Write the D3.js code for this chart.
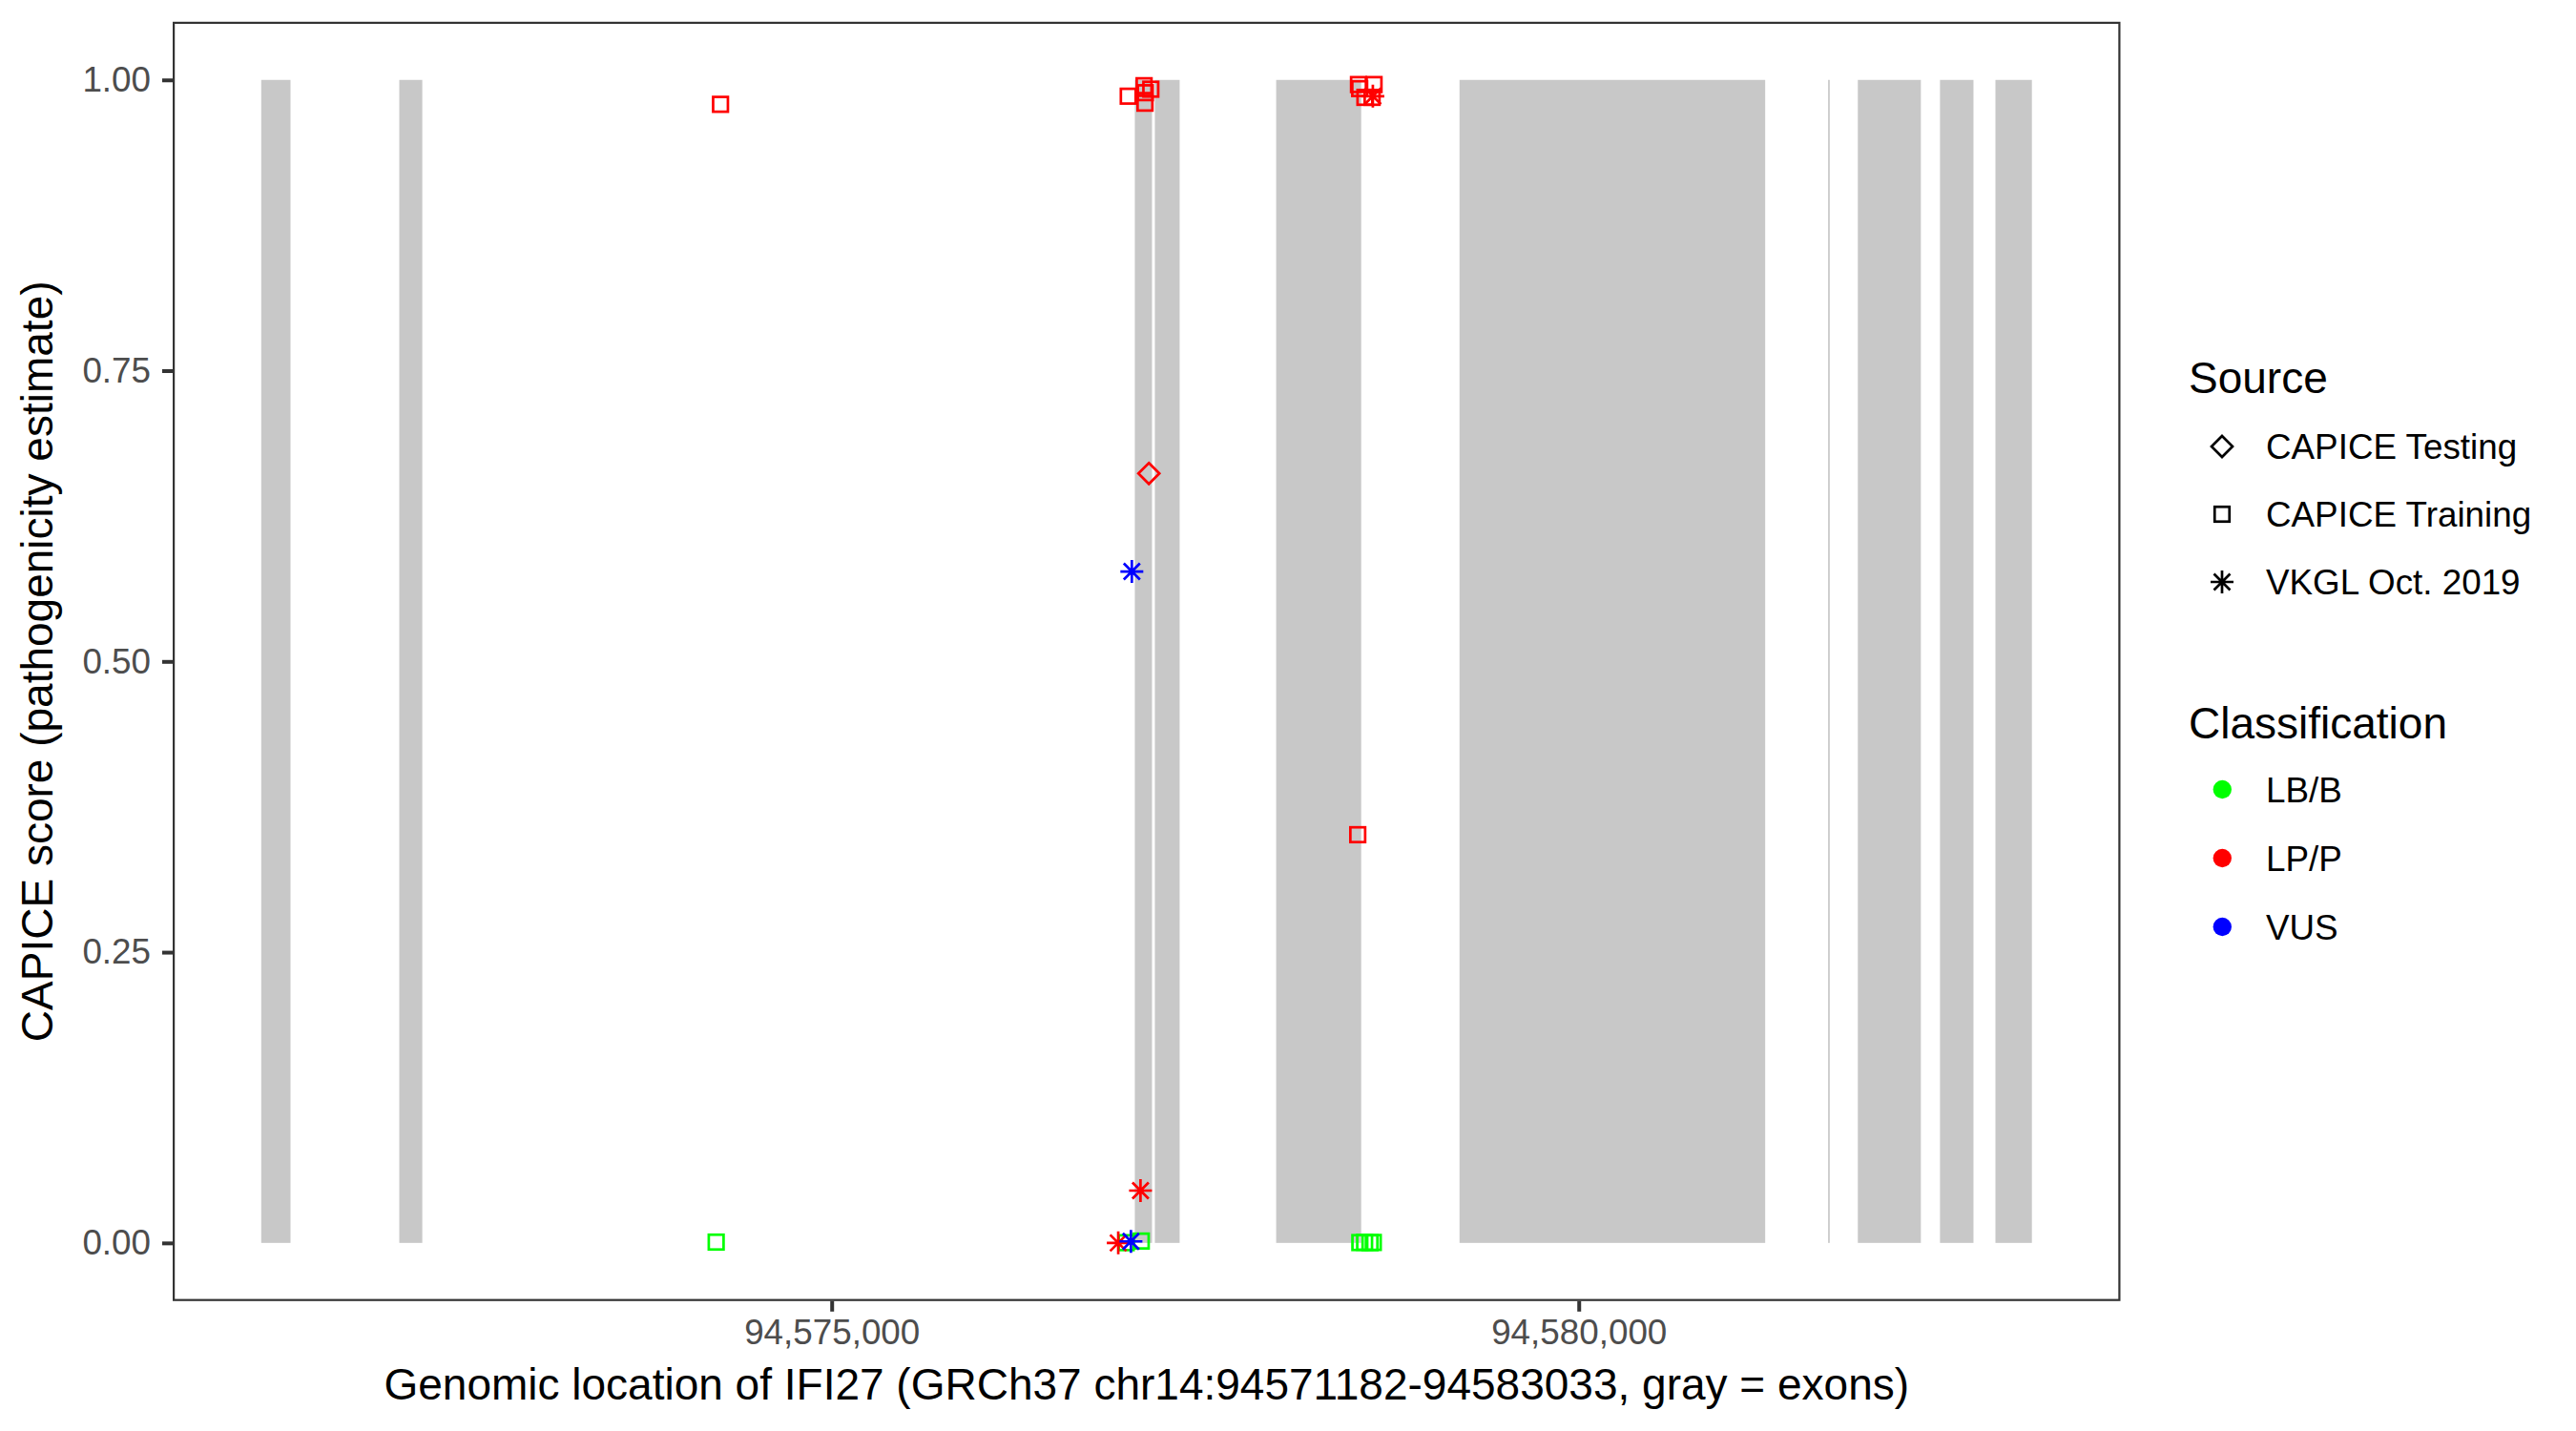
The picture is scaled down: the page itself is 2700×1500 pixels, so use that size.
<!DOCTYPE html>
<html>
<head>
<meta charset="utf-8">
<script src="https://cdn.jsdelivr.net/npm/d3@7"></script>
<style>
  html, body { margin: 0; padding: 0; background: #fff; }
  svg { display: block; }
  text { font-family: "Liberation Sans", Arial, Helvetica, sans-serif; }
</style>
</head>
<body>
<svg id="chart" width="2700" height="1500"></svg>
<script>
// ---- data ----
const geneStart = 94571182;
const geneEnd = 94583033;
const exonStarts = [94571182, 94572106, 94577029, 94577163, 94577975, 94579202, 94581669, 94581868, 94582418, 94582789];
const exonEnds   = [94571378, 94572260, 94577144, 94577329, 94578544, 94581248, 94581680, 94582290, 94582642, 94583033];

const positions = [94574227, 94576971, 94577072, 94578535, 94578567, 94578603, 94578625,
                   94574256, 94576985, 94577091, 94577136, 94577097, 94577099,
                   94578526, 94578630, 94578534, 94578569, 94578617, 94578521,
                   94577123,
                   94578622, 94577067, 94576918,
                   94577009, 94577003];
const scores    = [0.0007, 0.0002, 0.0016, 0.0003, 0.0005, 0.0002, 0.0004,
                   0.979, 0.986, 0.995, 0.992, 0.980, 0.989,
                   0.996, 0.996, 0.9925, 0.985, 0.985, 0.351,
                   0.6616,
                   0.986, 0.045, 0.0,
                   0.5773, 0.0013];
const sources   = ["CAPICE Training", "CAPICE Training", "CAPICE Training", "CAPICE Training", "CAPICE Training", "CAPICE Training", "CAPICE Training",
                   "CAPICE Training", "CAPICE Training", "CAPICE Training", "CAPICE Training", "CAPICE Training", "CAPICE Training",
                   "CAPICE Training", "CAPICE Training", "CAPICE Training", "CAPICE Training", "CAPICE Training", "CAPICE Training",
                   "CAPICE Testing",
                   "VKGL Oct. 2019", "VKGL Oct. 2019", "VKGL Oct. 2019",
                   "VKGL Oct. 2019", "VKGL Oct. 2019"];
const classes   = ["LB/B", "LB/B", "LB/B", "LB/B", "LB/B", "LB/B", "LB/B",
                   "LP/P", "LP/P", "LP/P", "LP/P", "LP/P", "LP/P",
                   "LP/P", "LP/P", "LP/P", "LP/P", "LP/P", "LP/P",
                   "LP/P",
                   "LP/P", "LP/P", "LP/P",
                   "VUS", "VUS"];

const sourceLevels = ["CAPICE Testing", "CAPICE Training", "VKGL Oct. 2019"];
const classLevels = ["LB/B", "LP/P", "VUS"];
const classColors = ["#00FF00", "#FF0000", "#0000FF"];
const xTicks = [94575000, 94580000];
const yTicks = [0, 0.25, 0.5, 0.75, 1.0];

// ---- layout ----
const svg = d3.select("#chart");
const panel = { left: 181, top: 22.8, right: 2222.5, bottom: 1363.8 };
const TITLE_FS = "46px";
const TEXT_FS = "36.8px";

const xr = geneEnd - geneStart;
const x = d3.scaleLinear()
  .domain([geneStart - 0.05 * xr, geneEnd + 0.05 * xr])
  .range([panel.left, panel.right]);
const y = d3.scaleLinear()
  .domain([-0.05, 1.05])
  .range([panel.bottom, panel.top]);
const color = d3.scaleOrdinal().domain(classLevels).range(classColors);

// exons
const g = svg.append("g");
g.selectAll("rect.exon")
  .data(exonStarts.map((s, i) => ({ s, e: exonEnds[i] })))
  .enter().append("rect")
  .attr("class", "exon")
  .attr("x", d => x(d.s))
  .attr("width", d => Math.max(1.5, x(d.e) - x(d.s)))
  .attr("y", y(1))
  .attr("height", y(0) - y(1))
  .attr("fill", "#C8C8C8");

// points
const SW = 2.7;
function drawShape(sel, src, col) {
  if (src === "CAPICE Training") {
    const s = 15.5;
    sel.append("rect").attr("x", -s / 2).attr("y", -s / 2).attr("width", s).attr("height", s)
      .attr("fill", "none").attr("stroke", col).attr("stroke-width", SW);
  } else if (src === "CAPICE Testing") {
    const h = 11;
    sel.append("path").attr("d", `M0,${-h}L${h},0L0,${h}L${-h},0Z`)
      .attr("fill", "none").attr("stroke", col).attr("stroke-width", SW);
  } else {
    const r = 12, dd = r * Math.SQRT1_2;
    sel.append("path")
      .attr("d", `M${-r},0L${r},0M0,${-r}L0,${r}M${-dd},${-dd}L${dd},${dd}M${-dd},${dd}L${dd},${-dd}`)
      .attr("fill", "none").attr("stroke", col).attr("stroke-width", SW);
  }
}

const pts = positions.map((p, i) => ({ p, v: scores[i], src: sources[i], cls: classes[i] }));
pts.forEach(d => {
  const gg = svg.append("g").attr("transform", `translate(${x(d.p)},${y(d.v)})`);
  drawShape(gg, d.src, color(d.cls));
});

// panel border
svg.append("rect")
  .attr("x", panel.left + 1.1).attr("y", panel.top + 1.1)
  .attr("width", panel.right - panel.left - 2.2).attr("height", panel.bottom - panel.top - 2.2)
  .attr("fill", "none").attr("stroke", "#333333").attr("stroke-width", 2.2);

// axes
const xAxis = d3.axisBottom(x).tickValues(xTicks).tickSize(11).tickPadding(8)
  .tickFormat(d3.format(","));
const xa = svg.append("g").attr("transform", `translate(0,${panel.bottom})`).call(xAxis);
xa.select(".domain").remove();
xa.selectAll("line").attr("stroke", "#333333").attr("stroke-width", 4);
xa.selectAll("text").attr("fill", "#4D4D4D").style("font-size", TEXT_FS)
  .style("font-family", "'Liberation Sans', Arial, sans-serif");

const yAxis = d3.axisLeft(y).tickValues(yTicks).tickSize(11).tickPadding(12)
  .tickFormat(d3.format(".2f"));
const ya = svg.append("g").attr("transform", `translate(${panel.left},0)`).call(yAxis);
ya.select(".domain").remove();
ya.selectAll("line").attr("stroke", "#333333").attr("stroke-width", 4);
ya.selectAll("text").attr("fill", "#4D4D4D").style("font-size", TEXT_FS)
  .style("font-family", "'Liberation Sans', Arial, sans-serif");

// axis titles
svg.append("text")
  .attr("x", (panel.left + panel.right) / 2).attr("y", 1467)
  .attr("text-anchor", "middle").attr("fill", "#000").style("font-size", TITLE_FS)
  .text("Genomic location of IFI27 (GRCh37 chr14:94571182-94583033, gray = exons)");
svg.append("text")
  .attr("transform", `translate(55,${(panel.top + panel.bottom) / 2}) rotate(-90)`)
  .attr("text-anchor", "middle").attr("fill", "#000").style("font-size", TITLE_FS)
  .text("CAPICE score (pathogenicity estimate)");

// legends
const lg = svg.append("g");
lg.append("text").attr("x", 2294).attr("y", 412).attr("fill", "#000").style("font-size", TITLE_FS).text("Source");
sourceLevels.forEach((s, i) => {
  const cy = 468 + i * 71;
  const gg = lg.append("g").attr("transform", `translate(2329,${cy})`);
  drawShape(gg, s, "#000");
  lg.append("text").attr("x", 2375).attr("y", cy + 12.5).attr("fill", "#000").style("font-size", TEXT_FS).text(s);
});
lg.append("text").attr("x", 2294).attr("y", 774).attr("fill", "#000").style("font-size", TITLE_FS).text("Classification");
classLevels.forEach((c, i) => {
  const cy = 827.5 + i * 72;
  lg.append("circle").attr("cx", 2329.3).attr("cy", cy).attr("r", 9.7).attr("fill", color(c));
  lg.append("text").attr("x", 2375).attr("y", cy + 13).attr("fill", "#000").style("font-size", TEXT_FS).text(c);
});
</script>
</body>
</html>
